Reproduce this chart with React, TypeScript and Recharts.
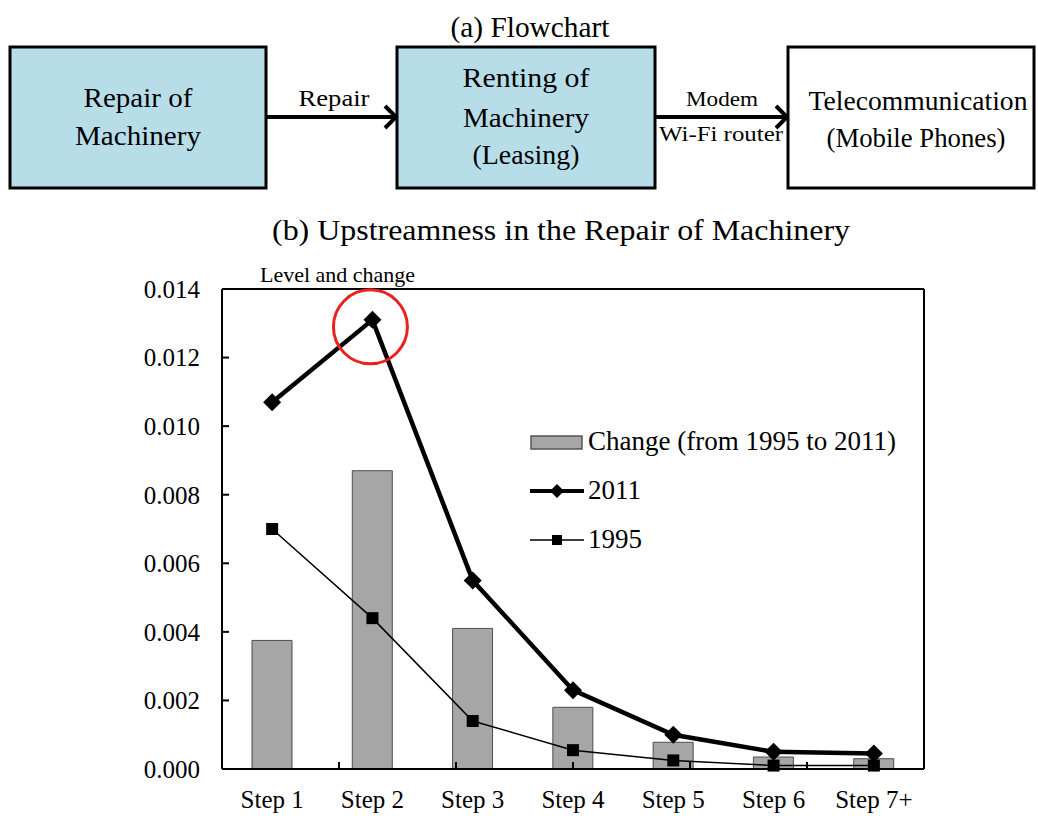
import React from "react";
import {
  ComposedChart,
  Bar,
  Line,
  XAxis,
  YAxis,
  Legend,
  ReferenceDot,
  ReferenceLine,
} from "recharts";

const steps = ["Step 1", "Step 2", "Step 3", "Step 4", "Step 5", "Step 6", "Step 7+"];
const change = [0.00375, 0.0087, 0.0041, 0.0018, 0.00078, 0.00035, 0.0003];
const level2011 = [0.0107, 0.0131, 0.0055, 0.0023, 0.001, 0.0005, 0.00045];
const level1995 = [0.007, 0.0044, 0.0014, 0.00055, 0.00025, 0.0001, 0.0001];
const yTicks = [0, 0.002, 0.004, 0.006, 0.008, 0.01, 0.012, 0.014];
const betweenTicks = [1, 2, 3, 4, 5, 6];

const CHANGE = "Change (from 1995 to 2011)";
const Y2011 = "2011";
const Y1995 = "1995";
const legendOrder = [CHANGE, Y2011, Y1995];

const data = steps.map((step, i) => ({
  step,
  change: change[i],
  y2011: level2011[i],
  y1995: level1995[i],
}));

const serif = '"Liberation Serif", "Times New Roman", serif';

const Diamond = (props: any) => {
  const { cx, cy, index } = props;
  if (cx == null || cy == null) return <g key={index} />;
  return (
    <polygon
      key={index}
      points={`${cx},${cy - 9} ${cx + 9},${cy} ${cx},${cy + 9} ${cx - 9},${cy}`}
      fill="#000"
    />
  );
};

const Square = (props: any) => {
  const { cx, cy, index } = props;
  if (cx == null || cy == null) return <g key={index} />;
  return <rect key={index} x={cx - 6} y={cy - 6} width={12} height={12} fill="#000" />;
};

// short upward tick on the x axis, between two categories
const BetweenTick = (p: any) => {
  const bottom = Math.max(p.y1, p.y2);
  return <line x1={p.x1} y1={bottom - 7} x2={p.x1} y2={bottom} stroke="#000" strokeWidth={2} />;
};

function legendIcon(name: string) {
  if (name === CHANGE)
    return <rect x={1} y={4} width={51} height={13} fill="#a6a6a6" stroke="#555" strokeWidth={1.5} />;
  if (name === Y2011)
    return (
      <g>
        <line x1={0} y1={10} x2={54} y2={10} stroke="#000" strokeWidth={4} />
        <polygon points="27,3 34,10 27,17 20,10" fill="#000" />
      </g>
    );
  return (
    <g>
      <line x1={0} y1={10} x2={54} y2={10} stroke="#000" strokeWidth={1.5} />
      <rect x={22} y={5} width={10} height={10} fill="#000" />
    </g>
  );
}

function LegendBox(props: any) {
  const items = [...(props.payload ?? [])].sort(
    (a: any, b: any) => legendOrder.indexOf(a.value) - legendOrder.indexOf(b.value)
  );
  return (
    <div style={{ fontFamily: serif, fontSize: 27, color: "#000" }}>
      {items.map((it: any) => (
        <div key={it.value} style={{ display: "flex", alignItems: "center", height: 49 }}>
          <svg width={56} height={20} style={{ marginRight: 2 }}>
            {legendIcon(it.value)}
          </svg>
          <span>{it.value}</span>
        </div>
      ))}
    </div>
  );
}

// text stretched to the width it has in the reference
function T({ x, y, w, size = 28, children }: any) {
  return (
    <text
      x={x}
      y={y}
      fontFamily={serif}
      fontSize={size}
      fill="#000"
      textAnchor="middle"
      textLength={w}
      lengthAdjust="spacingAndGlyphs"
    >
      {children}
    </text>
  );
}

function Flowchart() {
  const box = { stroke: "#000", strokeWidth: 3 };
  return (
    <svg
      width={1038}
      height={300}
      style={{ position: "absolute", left: 0, top: 0, pointerEvents: "none" }}
    >
      <T x={530} y={37} w={159} size={29}>(a) Flowchart</T>

      <rect x={10} y={47} width={256} height={141} fill="#b7dee8" {...box} />
      <T x={138} y={107} w={109}>Repair of</T>
      <T x={138} y={145} w={126}>Machinery</T>

      <line x1={266} y1={117} x2={395} y2={117} stroke="#000" strokeWidth={4} />
      <polyline points="385,106 396,117 385,128" fill="none" stroke="#000" strokeWidth={4} />
      <T x={334} y={106} w={71} size={24}>Repair</T>

      <rect x={397} y={47} width={258} height={141} fill="#b7dee8" {...box} />
      <T x={526} y={87} w={127}>Renting of</T>
      <T x={526} y={127} w={126}>Machinery</T>
      <T x={526} y={164} w={107}>(Leasing)</T>

      <line x1={655} y1={117} x2={786} y2={117} stroke="#000" strokeWidth={4} />
      <polyline points="776,106 787,117 776,128" fill="none" stroke="#000" strokeWidth={4} />
      <T x={722} y={106} w={72} size={22}>Modem</T>
      <T x={721} y={141} w={124} size={22}>Wi-Fi router</T>

      <rect x={788} y={47} width={246} height={141} fill="#fff" {...box} />
      <T x={918} y={110} w={219}>Telecommunication</T>
      <T x={916} y={147} w={179}>(Mobile Phones)</T>

      <T x={561} y={240} w={578} size={29}>
        (b) Upstreamness in the Repair of Machinery
      </T>
      <text x={260} y={282} fontFamily={serif} fontSize={22} fill="#000">
        Level and change
      </text>
    </svg>
  );
}

export default function App() {
  return (
    <div
      style={{
        position: "absolute",
        left: 0,
        top: 0,
        width: 1038,
        height: 816,
        background: "#fff",
      }}
    >
      <ComposedChart
        width={1038}
        height={816}
        data={data}
        margin={{ top: 289, right: 113, bottom: 0, left: 142 }}
        barSize={40}
      >
        <XAxis
          dataKey="step"
          height={47}
          axisLine={{ stroke: "#000", strokeWidth: 2 }}
          tickLine={false}
          tickSize={0}
          tickMargin={21}
          tick={{ fontFamily: serif, fontSize: 25, fill: "#000" }}
          interval={0}
        />
        <XAxis
          xAxisId="between"
          type="number"
          domain={[0, 7]}
          allowDataOverflow
          hide
        />
        <YAxis
          width={80}
          domain={[0, 0.014]}
          ticks={yTicks}
          tickFormatter={(v: number) => v.toFixed(3)}
          axisLine={{ stroke: "#000", strokeWidth: 2 }}
          tickLine={{ stroke: "#000", strokeWidth: 2 }}
          tickSize={-7}
          tickMargin={29}
          tick={{ fontFamily: serif, fontSize: 25, fill: "#000" }}
          interval={0}
        />
        <YAxis
          yAxisId="frame"
          orientation="right"
          width={1}
          domain={[0, 0.014]}
          ticks={yTicks}
          tick={false}
          tickLine={false}
          axisLine={{ stroke: "#000", strokeWidth: 2 }}
        />
        <Bar
          dataKey="change"
          name={CHANGE}
          fill="#a6a6a6"
          stroke="#4d4d4d"
          strokeWidth={1}
          isAnimationActive={false}
        />
        {betweenTicks.map((t) => (
          <ReferenceLine key={t} xAxisId="between" x={t} shape={BetweenTick} />
        ))}
        <ReferenceLine y={yTicks[yTicks.length - 1]} stroke="#000" strokeWidth={2} />
        <Line
          dataKey="y2011"
          name={Y2011}
          stroke="#000"
          strokeWidth={4.5}
          dot={Diamond}
          activeDot={false}
          isAnimationActive={false}
        />
        <Line
          dataKey="y1995"
          name={Y1995}
          stroke="#000"
          strokeWidth={1.5}
          dot={Square}
          activeDot={false}
          isAnimationActive={false}
        />
        <ReferenceDot
          x="Step 2"
          y={level2011[1]}
          r={37}
          shape={(p: any) => (
            <circle cx={p.cx - 2} cy={p.cy + 7} r={37} fill="none" stroke="#e8231f" strokeWidth={3} />
          )}
        />
        <Legend
          layout="vertical"
          align="center"
          verticalAlign="middle"
          wrapperStyle={{ left: 530, top: 417, width: 380 }}
          content={LegendBox}
        />
      </ComposedChart>
      <Flowchart />
    </div>
  );
}
